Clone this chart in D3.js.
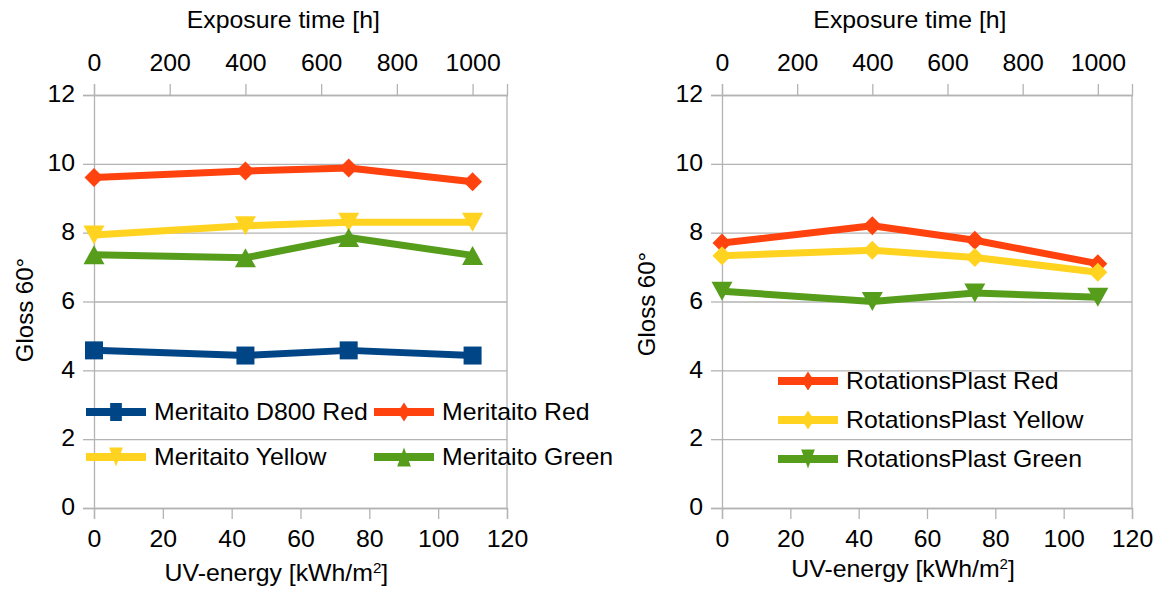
<!DOCTYPE html>
<html>
<head>
<meta charset="utf-8">
<script src="https://cdn.jsdelivr.net/npm/d3@7"></script>
<style>
  html, body { margin: 0; padding: 0; background: #fff; }
  svg { display: block; }
  text { font-family: "Liberation Sans", Arial, sans-serif; fill: #000; }
</style>
</head>
<body>
<svg id="chart" width="1173" height="592"></svg>
<script>
// ---------- data ----------
const uvEnergy = [0, 44, 74, 110];            // kWh/m2 (bottom axis)
const hoursPerUv = 1000 / 110;                 // top axis link: 110 kWh/m2 = 1000 h

const meritaitoD800Red = [4.58, 4.43, 4.58, 4.43];
const meritaitoRed     = [9.6, 9.79, 9.88, 9.48];
const meritaitoYellow  = [7.93, 8.2, 8.3, 8.3];
const meritaitoGreen   = [7.36, 7.27, 7.86, 7.34];

const rotRed    = [7.7, 8.2, 7.78, 7.1];
const rotYellow = [7.33, 7.49, 7.28, 6.85];
const rotGreen  = [6.3, 6.0, 6.25, 6.12];

const yTicks      = [0, 2, 4, 6, 8, 10, 12];
const xTicks      = [0, 20, 40, 60, 80, 100, 120];
const topTicks    = [0, 200, 400, 600, 800, 1000];

const colors = { blue: "#004586", red: "#ff420e", yellow: "#ffd320", green: "#579d1c" };

const leftSeries = [
  { name: "Meritaito D800 Red", values: meritaitoD800Red, color: colors.blue,   marker: "square" },
  { name: "Meritaito Red",      values: meritaitoRed,     color: colors.red,    marker: "diamond" },
  { name: "Meritaito Yellow",   values: meritaitoYellow,  color: colors.yellow, marker: "triDown" },
  { name: "Meritaito Green",    values: meritaitoGreen,   color: colors.green,  marker: "triUp" }
];
const rightSeries = [
  { name: "RotationsPlast Red",    values: rotRed,    color: colors.red,    marker: "diamond" },
  { name: "RotationsPlast Yellow", values: rotYellow, color: colors.yellow, marker: "diamond" },
  { name: "RotationsPlast Green",  values: rotGreen,  color: colors.green,  marker: "triDown" }
];

// ---------- helpers ----------
const SX = 1.08;     // horizontal glyph stretch seen in the reference
const FS = 23;
const gridColor = "#b3b3b3";

function markerPath(type, w, h) {
  const a = w / 2, b = h / 2;
  switch (type) {
    case "square":  return `M${-a},${-b}H${a}V${b}H${-a}Z`;
    case "diamond": return `M0,${-b}L${a},0L0,${b}L${-a},0Z`;
    case "triUp":   return `M0,${-b}L${a},${b}L${-a},${b}Z`;
    case "triDown": return `M${-a},${-b}L${a},${-b}L0,${b}Z`;
  }
}
const markerSize = { square: [18, 18], diamond: [19, 19], triUp: [21, 19], triDown: [21, 19] };

function stretchText(sel) {
  sel.each(function () {
    const t = d3.select(this);
    const x = +(t.attr("x") || 0);
    t.attr("x", x / SX).attr("transform", `scale(${SX},1)`);
  });
}

const svg = d3.select("#chart");

function drawPanel(cfg) {
  const { x0, x1, y0, y1, series, legend } = cfg;
  const x = d3.scaleLinear().domain([0, 120]).range([x0, x1]);
  const xTop = d3.scaleLinear().domain([0, 120 * hoursPerUv]).range([x0, x1]);
  const y = d3.scaleLinear().domain([0, 12]).range([y1, y0]);

  const g = svg.append("g");

  // horizontal grid
  g.append("g")
    .attr("transform", `translate(${x0},0)`)
    .call(d3.axisLeft(y).tickValues(yTicks).tickSize(-(x1 - x0)).tickFormat(""))
    .call(s => s.select(".domain").remove())
    .call(s => s.selectAll("line").attr("stroke", gridColor).attr("stroke-width", 1.3));

  // right border
  g.append("line")
    .attr("x1", x1).attr("x2", x1).attr("y1", y(12)).attr("y2", y(0))
    .attr("stroke", gridColor).attr("stroke-width", 1.3);

  // left axis
  const ya = g.append("g")
    .attr("transform", `translate(${x0},0)`)
    .call(d3.axisLeft(y).tickValues(yTicks).tickSize(11).tickPadding(8))
    .call(s => s.select(".domain").attr("stroke", gridColor).attr("stroke-width", 1.3))
    .call(s => s.selectAll("line").attr("stroke", gridColor).attr("stroke-width", 1.3));
  ya.selectAll("text").attr("font-size", FS).attr("font-family", null).attr("dy", "0.29em")
    .call(stretchText);

  // bottom axis
  const xa = g.append("g")
    .attr("transform", `translate(0,${y1})`)
    .call(d3.axisBottom(x).tickValues(xTicks).tickSize(11).tickPadding(12))
    .call(s => s.select(".domain").attr("stroke", gridColor).attr("stroke-width", 1.3))
    .call(s => s.selectAll("line").attr("stroke", gridColor).attr("stroke-width", 1.3));
  xa.selectAll("text").attr("font-size", FS).attr("font-family", null).call(stretchText);

  // top axis
  const ta = g.append("g")
    .attr("transform", `translate(0,${y0})`)
    .call(d3.axisTop(xTop).tickValues(topTicks).tickFormat(d3.format("d")).tickSize(11).tickPadding(13))
    .call(s => s.select(".domain").attr("stroke", gridColor).attr("stroke-width", 1.3))
    .call(s => s.selectAll("line").attr("stroke", gridColor).attr("stroke-width", 1.3));
  ta.selectAll("text").attr("font-size", FS).attr("font-family", null).call(stretchText);

  // axis titles
  g.append("text")
    .attr("transform", `translate(${xTop(500)},${cfg.topTitleY}) scale(${SX},1)`)
    .attr("text-anchor", "middle").attr("font-size", FS)
    .text("Exposure time [h]");

  const bt = g.append("text")
    .attr("transform", `translate(${x(53)},${cfg.bottomTitleY}) scale(${SX},1)`)
    .attr("text-anchor", "middle").attr("font-size", FS);
  bt.append("tspan").text("UV-energy [kWh/m");
  bt.append("tspan").attr("font-size", 14).attr("dy", -8).text("2");
  bt.append("tspan").attr("dy", 8).text("]");

  g.append("text")
    .attr("transform", `translate(${cfg.yTitleX},${cfg.yTitleY}) rotate(-90)`)
    .attr("text-anchor", "middle").attr("font-size", 24)
    .text("Gloss 60°");

  // series
  const line = d3.line().x((d, i) => x(uvEnergy[i])).y(d => y(d));
  series.forEach(s => {
    const sg = g.append("g");
    sg.append("path").datum(s.values)
      .attr("d", line).attr("fill", "none")
      .attr("stroke", s.color).attr("stroke-width", 7).attr("stroke-linejoin", "round");
    const [mw, mh] = markerSize[s.marker];
    sg.selectAll("path.m").data(s.values).join("path").attr("class", "m")
      .attr("transform", (d, i) => `translate(${x(uvEnergy[i])},${y(d)})`)
      .attr("d", markerPath(s.marker, mw, mh))
      .attr("fill", s.color);
  });

  // legend
  series.forEach((s, i) => {
    const pos = legend.pos[i];
    const lg = g.append("g").attr("transform", `translate(${pos[0]},${pos[1]})`);
    lg.append("line").attr("x1", 0).attr("x2", legend.lineLen).attr("y1", 0).attr("y2", 0)
      .attr("stroke", s.color).attr("stroke-width", 8);
    const [mw, mh] = markerSize[s.marker];
    lg.append("path")
      .attr("transform", `translate(${legend.lineLen / 2},0)`)
      .attr("d", markerPath(s.marker, mw * 0.65, mh))
      .attr("fill", s.color);
    lg.append("text")
      .attr("transform", `translate(${legend.lineLen + 8},0) scale(${SX},1)`)
      .attr("dy", "0.36em").attr("font-size", FS)
      .text(s.name);
  });
}

drawPanel({
  x0: 94, x1: 507, y0: 95, y1: 508, series: leftSeries,
  topTitleY: 28, bottomTitleY: 581, yTitleX: 33, yTitleY: 310,
  legend: { lineLen: 60, pos: [[86, 412], [374, 412], [86, 457], [374, 457]] }
});
drawPanel({
  x0: 722, x1: 1132, y0: 95, y1: 508, series: rightSeries,
  topTitleY: 28, bottomTitleY: 577, yTitleX: 655, yTitleY: 304,
  legend: { lineLen: 60, pos: [[778, 381], [778, 420], [778, 459]] }
});
</script>
</body>
</html>
